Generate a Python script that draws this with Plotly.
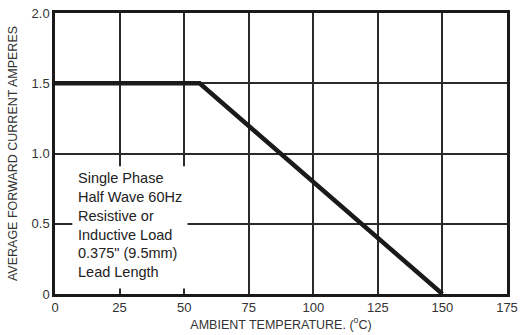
import plotly.graph_objects as go

temps = [0, 56, 150]
current = [1.5, 1.5, 0.0]
x_ticks = [0, 25, 50, 75, 100, 125, 150, 175]
x_labels = ["0", "25", "50", "75", "100", "125", "150", "175"]
y_ticks = [0, 0.5, 1.0, 1.5, 2.0]
y_labels = ["0", "0.5", "1.0", "1.5", "2.0"]
note = "Single Phase<br>Half Wave 60Hz<br>Resistive or<br>Inductive Load<br>0.375\" (9.5mm)<br>Lead Length"

FONT = "Liberation Sans, Arial"

fig = go.Figure()
fig.add_trace(go.Scatter(x=temps, y=current, mode="lines",
                         line=dict(color="#1a1a1a", width=4.5), showlegend=False))

fig.add_shape(type="rect", x0=6.7, x1=51.3, y0=0.04, y1=0.91, xref="x", yref="y",
              fillcolor="white", line=dict(width=0), layer="between")
fig.add_annotation(x=8.3, y=0.895, xref="x", yref="y", text=note, showarrow=False,
                   xanchor="left", yanchor="top", align="left",
                   font=dict(family=FONT, size=14.5, color="#222"))

fig.update_xaxes(range=[0, 175], tickvals=x_ticks, ticktext=x_labels,
                 showgrid=True, gridcolor="#2a2a2a", gridwidth=1.6,
                 showline=True, linecolor="#1a1a1a", linewidth=2.5, mirror=True,
                 zeroline=False, ticks="", ticklen=0,
                 tickfont=dict(family=FONT, size=13, color="#333"),
                 title=dict(text="AMBIENT TEMPERATURE. (<sup>o</sup>C)", standoff=2,
                            font=dict(family=FONT, size=12.5, color="#333")))
fig.update_yaxes(range=[0, 2.0], tickvals=y_ticks, ticktext=y_labels,
                 showgrid=True, gridcolor="#2a2a2a", gridwidth=1.6,
                 showline=True, linecolor="#1a1a1a", linewidth=2.5, mirror=True,
                 zeroline=False, ticks="", ticklen=0,
                 tickfont=dict(family=FONT, size=13, color="#333"),
                 title=dict(text="AVERAGE FORWARD CURRENT AMPERES", standoff=12,
                            font=dict(family=FONT, size=12.5, color="#333")))

fig.update_layout(width=524, height=335, margin=dict(l=55, r=14, t=6, b=41),
                  plot_bgcolor="white", paper_bgcolor="white")
fig.write_html("out.html")
